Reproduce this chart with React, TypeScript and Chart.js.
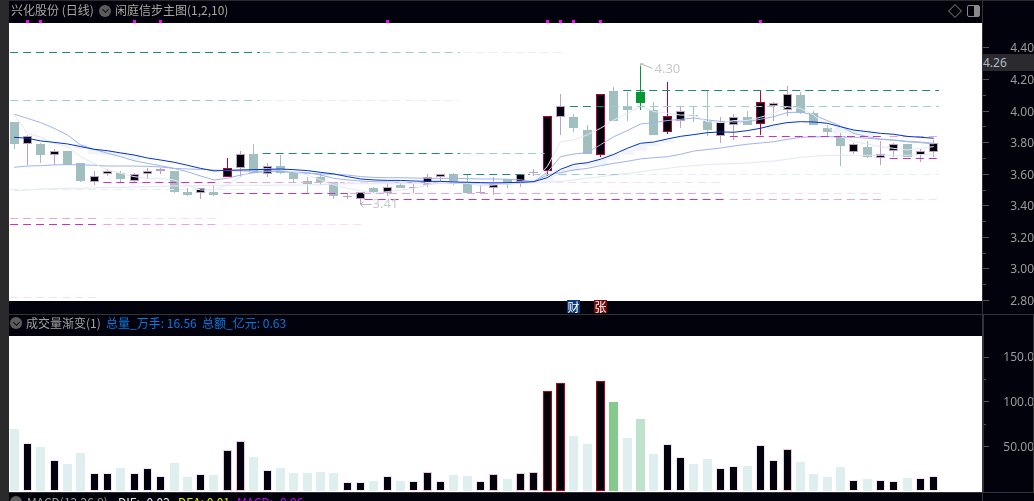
import React, { useEffect, useRef } from "react";
import { Chart, registerables, BarElement } from "chart.js";

Chart.register(...registerables);

// ---------- price panel data ----------
const candleKinds = [
  "d","u","d","u","d","d","u","u","d","u","u","u","d","d","u","d","s","u","d","u","d","d","d","d","d","x","u","d","u","d","x","u","u","d","d","u","u","d","u","x","s","u","d","d","s","d","d","g","d","s","u","d","d","u","u","d","s","u","u","d","d","d","d","u","d","u","u","d","u","u",
];
const bodyHigh = [3.93,3.84,3.79,3.75,3.75,3.67,3.59,3.62,3.61,3.60,3.62,3.63,3.62,3.49,3.51,3.49,3.64,3.73,3.73,3.65,3.65,3.61,3.56,3.58,3.55,3.465,3.49,3.51,3.52,3.53,3.52,3.58,3.60,3.60,3.55,3.49,3.54,3.57,3.60,3.612,3.97,4.03,3.96,3.88,4.11,4.13,4.03,4.12,4.01,3.97,4.00,3.973,3.94,3.93,3.96,3.96,4.06,4.05,4.11,4.10,3.99,3.89,3.84,3.79,3.77,3.73,3.79,3.79,3.75,3.80];
const bodyLow = [3.79,3.79,3.72,3.72,3.66,3.56,3.55,3.60,3.57,3.56,3.60,3.62,3.49,3.47,3.48,3.47,3.58,3.64,3.61,3.60,3.61,3.57,3.54,3.55,3.46,3.458,3.44,3.49,3.48,3.51,3.51,3.53,3.58,3.54,3.48,3.48,3.51,3.54,3.55,3.605,3.62,3.96,3.89,3.73,3.72,3.94,4.01,4.05,3.85,3.87,3.94,3.967,3.88,3.84,3.91,3.91,3.92,4.03,4.01,3.99,3.91,3.87,3.78,3.74,3.71,3.70,3.75,3.71,3.72,3.74];
const highs = [3.93,3.85,3.80,3.76,3.75,3.67,3.62,3.63,3.62,3.61,3.64,3.64,3.62,3.51,3.51,3.53,3.70,3.75,3.79,3.67,3.72,3.61,3.58,3.61,3.55,3.48,3.49,3.52,3.55,3.55,3.54,3.60,3.60,3.61,3.60,3.53,3.58,3.57,3.60,3.635,3.97,4.11,3.98,3.91,4.11,4.15,4.12,4.29,4.06,4.185,4.03,4.03,4.13,3.96,3.98,4.00,4.13,4.06,4.16,4.12,4.00,3.91,3.86,3.80,3.81,3.81,3.80,3.79,3.76,3.82];
const lows = [3.76,3.66,3.67,3.66,3.66,3.55,3.53,3.59,3.55,3.55,3.57,3.60,3.48,3.46,3.44,3.46,3.58,3.58,3.61,3.58,3.60,3.55,3.48,3.53,3.44,3.44,3.41,3.48,3.46,3.51,3.48,3.52,3.54,3.53,3.48,3.475,3.47,3.51,3.52,3.59,3.59,3.85,3.87,3.73,3.71,3.94,3.94,4.01,3.85,3.855,3.89,3.93,3.84,3.80,3.82,3.91,3.85,3.94,3.97,3.98,3.91,3.84,3.65,3.73,3.705,3.66,3.71,3.71,3.68,3.71];

const maDark = [3.834,3.828,3.811,3.802,3.792,3.775,3.758,3.749,3.735,3.722,3.703,3.690,3.676,3.657,3.637,3.621,3.625,3.627,3.629,3.631,3.633,3.629,3.623,3.612,3.602,3.585,3.570,3.564,3.561,3.561,3.557,3.555,3.555,3.551,3.549,3.547,3.545,3.547,3.549,3.553,3.578,3.631,3.663,3.673,3.695,3.726,3.764,3.796,3.804,3.823,3.840,3.851,3.863,3.868,3.866,3.876,3.891,3.912,3.927,3.933,3.931,3.923,3.901,3.880,3.870,3.859,3.853,3.840,3.834,3.828];
const maMidFast = [3.980,3.954,3.927,3.891,3.849,3.785,3.758,3.733,3.711,3.686,3.669,3.654,3.637,3.616,3.589,3.564,3.574,3.595,3.610,3.616,3.616,3.610,3.606,3.602,3.599,3.595,3.585,3.580,3.578,3.578,3.576,3.574,3.574,3.574,3.572,3.570,3.570,3.568,3.564,3.553,3.612,3.711,3.728,3.737,3.787,3.838,3.876,3.918,3.927,3.940,3.948,3.956,3.944,3.935,3.931,3.933,3.948,3.965,3.990,3.994,3.975,3.940,3.906,3.859,3.838,3.823,3.817,3.809,3.804,3.796];
const maMidSlow = [3.644,3.652,3.654,3.659,3.661,3.659,3.657,3.652,3.652,3.652,3.650,3.646,3.637,3.633,3.631,3.627,3.623,3.621,3.619,3.621,3.621,3.614,3.610,3.595,3.574,3.564,3.557,3.553,3.551,3.549,3.547,3.547,3.545,3.543,3.543,3.540,3.538,3.538,3.543,3.553,3.595,3.610,3.627,3.637,3.654,3.669,3.682,3.697,3.705,3.711,3.726,3.747,3.756,3.766,3.779,3.790,3.798,3.806,3.821,3.834,3.836,3.838,3.836,3.834,3.828,3.821,3.815,3.806,3.800,3.792];
const maPaleSlow = [3.496,3.500,3.507,3.509,3.511,3.511,3.513,3.517,3.517,3.519,3.521,3.523,3.526,3.526,3.528,3.530,3.530,3.530,3.530,3.530,3.532,3.532,3.532,3.534,3.538,3.540,3.540,3.540,3.540,3.540,3.540,3.540,3.543,3.543,3.543,3.543,3.543,3.543,3.543,3.545,3.549,3.553,3.564,3.574,3.585,3.595,3.606,3.616,3.627,3.637,3.648,3.654,3.661,3.665,3.667,3.671,3.678,3.684,3.695,3.707,3.714,3.720,3.720,3.720,3.720,3.720,3.720,3.720,3.724,3.728];
const maPaleFast = [3.980,3.859,3.834,3.796,3.775,3.711,3.669,3.627,3.606,3.585,3.574,3.574,3.564,3.532,3.500,3.500,3.532,3.585,3.627,3.637,3.627,3.616,3.595,3.564,3.532,3.511,3.496,3.479,3.490,3.500,3.511,3.532,3.543,3.553,3.543,3.526,3.532,3.538,3.547,3.564,3.648,3.806,3.817,3.849,3.891,3.944,3.986,4.028,3.997,3.986,3.975,3.975,3.933,3.927,3.940,3.940,3.961,3.986,4.028,4.017,3.975,3.901,3.838,3.806,3.792,3.775,3.764,3.754,3.764,3.775];

// pale stepped bands around the main average: [candle, high, low]
const paleBands = [[5,3.79,3.76],[6,3.76,3.73],[7,3.75,3.72],[8,3.74,3.71],[9,3.72,3.69],[40,3.59,3.55],[41,3.63,3.59],[42,3.66,3.62],[43,3.67,3.65],[44,3.70,3.66],[45,3.73,3.69],[46,3.76,3.72],[47,3.80,3.75],[48,3.80,3.78],[49,3.82,3.80],[57,3.91,3.88],[62,3.90,3.86],[63,3.88,3.85],[64,3.87,3.84]];

// dashed price levels: [price, from candle, to candle, tier 0 strong .. 2 faint]
const tealLevels = [
  [4.37,-0.3,18.45,0],[4.37,18.65,33.45,1],[4.37,33.7,41.3,2],
  [4.07,-0.3,18.45,1],[4.07,18.65,33.45,2],
  [3.73,18.65,33.45,0],[3.73,33.7,39.8,1],
  [3.60,33.7,38.7,0],[3.60,38.9,45.5,1],[3.60,45.7,69.4,2],
  [3.505,-0.3,18.45,2],
  [4.13,45.7,69.4,0],
  [4.03,41.7,44.55,0],[4.03,44.8,69.4,1],
];
const magentaLevels = [
  [3.55,6.7,15.45,0],[3.55,15.7,24.8,1],[3.55,25,53.3,2],
  [3.48,15.7,25,0],[3.48,25.2,53.3,1],[3.48,53.7,65.3,2],
  [3.44,26.3,53.4,0],[3.44,53.7,65.3,1],[3.44,65.7,69.4,2],
  [3.32,-0.3,6.45,1],[3.32,6.7,15.45,2],
  [3.28,-0.3,6.45,0],[3.28,6.7,15.45,1],[3.28,15.7,26.3,2],
  [3.84,53.7,65.3,0],[3.84,65.7,69.4,1],
  [3.70,65.7,69.4,0],
  [2.82,-0.3,6.45,2],
];
const signalCandles = [1,2,9,11,28,40,41,42,44,56];
const peakNotes = [{ i: 47, price: 4.29, text: "4.30", dx: 14, dy: 4 }];
const troughNotes = [{ i: 26, price: 3.41, text: "3.41" }];

const priceTicks = [2.8,2.9,3.0,3.1,3.2,3.3,3.4,3.5,3.6,3.7,3.8,3.9,4.0,4.1,4.2,4.3,4.4];
const priceLabelled = [2.8,3.0,3.2,3.4,3.6,3.8,4.0,4.2,4.4];
const priceMin = 2.797;
const priceMax = 4.558;

// ---------- volume panel data ----------
const volumes = [69.4,54,49,35,30,42.5,20.5,20.5,25.7,20.5,26,17,31,15.7,19,18,45.5,55.6,38,23,25.7,20,20,21,20,10.4,10.4,11,17,11,11.5,21,11.5,18,17,11.5,18.6,13.4,20,21,111.6,120.5,61.6,52.6,122.8,99.6,59.3,80.6,41.4,53,38.4,30,35.8,26,28,28,52,34.7,46.6,32.5,19,15.7,26.9,12.7,13.4,12.7,11.6,14.6,15,17];
const volumeKinds = ["l","b","l","b","l","l","b","b","l","b","b","b","l","l","b","l","p","p","l","b","l","l","l","l","l","b","b","l","b","l","b","p","b","l","l","b","p","l","p","p","r","r","l","l","r","g","l","h","l","b","b","l","l","b","b","l","b","b","p","l","l","l","l","b","l","b","b","l","b","b"];
const volumeTicks = [50,75,100,125,150];
const volumeLabels: Record<number, string> = { 50: "50.00", 100: "100.0", 150: "150.0" };
const volumeMax = 173.6;

// ---------- look ----------
const INK = "#02020c";
const TEAL = "#a2bfbf";
const MAUVE = "#bfa0c2";
const CRIMSON = "#b8003c";
const GREEN = "#009933";
const AXIS_FONT = { family: "'Noto Sans'", size: 12 };
const AXIS_COLOR = "#9a9a9a";
const X_MIN = -0.38;
const X_MAX = 72.62;

const candleFill: Record<string, string> = { d: TEAL, u: INK, s: INK, g: GREEN, x: MAUVE };
const candleEdge: Record<string, string> = { d: TEAL, u: MAUVE, s: CRIMSON, g: GREEN, x: MAUVE };
const wickColor: Record<string, string> = { d: TEAL, u: MAUVE, s: CRIMSON, g: GREEN, x: MAUVE };
const volFill: Record<string, string> = { l: "#dfeeee", b: INK, p: INK, r: INK, g: "#85c98c", h: "#bfe2cd" };
const volEdge: Record<string, string> = { l: "#dfeeee", b: "#f6e0f4", p: "#f2c4dc", r: "#c00010", g: "#85c98c", h: "#bfe2cd" };
const tealTier = ["#1a8a80", "#9ccfcc", "#e2f1ef"];
const magentaTier = ["#c832c0", "#e8a4e0", "#f6dcf4"];

// keep bars on whole pixels, as the terminal draws them
const baseBarDraw = BarElement.prototype.draw;
BarElement.prototype.draw = function (this: any, ctx: CanvasRenderingContext2D) {
  this.x = Math.floor(this.x) + 0.5;
  this.y = Math.round(this.y);
  this.base = Math.round(this.base);
  baseBarDraw.call(this, ctx);
};

const bgPlugin = {
  id: "panelBg",
  beforeDraw(chart: any) {
    const { ctx, chartArea: a } = chart;
    ctx.save();
    ctx.fillStyle = "#ffffff";
    ctx.fillRect(a.left, a.top, a.right - a.left, a.bottom - a.top + (chart.options.plugins.panelBg?.extra ?? 0));
    ctx.restore();
  },
};

const snapPlugin = {
  id: "snapLevels",
  beforeDatasetDraw(chart: any, args: any) {
    const ds = chart.data.datasets[args.index];
    if (!ds.snap) return;
    const y = args.meta.data[0].y;
    chart.ctx.save();
    chart.ctx.translate(0, Math.round(y - 0.5) + 0.5 - y);
  },
  afterDatasetDraw(chart: any, args: any) {
    if (chart.data.datasets[args.index].snap) chart.ctx.restore();
  },
};

function axisTicksPlugin(major: number[], color: string) {
  return {
    id: "axisTicks",
    afterDraw(chart: any) {
      const { ctx, scales } = chart;
      const s = scales.y;
      ctx.save();
      ctx.strokeStyle = color;
      ctx.lineWidth = 1;
      s.ticks.forEach((t: any) => {
        const y = Math.round(s.getPixelForValue(t.value) - 0.5) + 0.5;
        const len = major.includes(t.value) ? 6 : 3;
        ctx.beginPath();
        ctx.moveTo(s.left + 1, y);
        ctx.lineTo(s.left + 1 + len, y);
        ctx.stroke();
      });
      ctx.restore();
    },
  };
}

const notesPlugin = {
  id: "extremeNotes",
  afterDatasetsDraw(chart: any) {
    const { ctx, scales } = chart;
    ctx.save();
    ctx.font = "13px 'Noto Sans'";
    ctx.textBaseline = "middle";
    ctx.strokeStyle = "#b8b8b8";
    ctx.fillStyle = "#c6cbc6";
    ctx.lineWidth = 1;
    peakNotes.forEach((n) => {
      const x = Math.floor(scales.x.getPixelForValue(n.i)) + 0.5;
      const y = scales.y.getPixelForValue(n.price) - 2;
      ctx.beginPath();
      ctx.moveTo(x + 3, y + 0.5);
      ctx.lineTo(x, y + 0.5);
      ctx.lineTo(x, y + 3);
      ctx.moveTo(x, y + 0.5);
      ctx.lineTo(x + 12, y + 5);
      ctx.stroke();
      ctx.fillText(n.text, x + n.dx, y + n.dy + 2);
    });
    troughNotes.forEach((n) => {
      const x = Math.floor(scales.x.getPixelForValue(n.i)) + 0.5;
      const y = Math.round(scales.y.getPixelForValue(n.price)) + 0.5;
      ctx.beginPath();
      ctx.moveTo(x + 3, y - 3);
      ctx.lineTo(x, y);
      ctx.lineTo(x + 3, y + 3);
      ctx.moveTo(x, y);
      ctx.lineTo(x + 11, y);
      ctx.stroke();
      ctx.fillText(n.text, x + 12, y);
    });
    ctx.restore();
  },
};

const barBase = { type: "bar", grouped: false, inflateAmount: 0, borderSkipped: false, parsing: { xAxisKey: "x", yAxisKey: "y" } };

function maLine(values: number[], color: string, order: number, width = 1) {
  return {
    type: "line",
    data: values.map((y, x) => ({ x, y })),
    borderColor: color,
    borderWidth: width,
    pointRadius: 0,
    tension: 0,
    fill: false,
    order,
  };
}

function levelLines(levels: number[][], tiers: string[]) {
  return levels.map(([price, from, to, tier]) => ({
    type: "line",
    snap: true,
    data: [{ x: from, y: price }, { x: to, y: price }],
    borderColor: tiers[tier],
    borderWidth: 1,
    borderDash: [8, 5],
    pointRadius: 0,
    order: 1,
  }));
}

const fitAxis = (s: any) => {
  s.width = 52;
  s.paddingTop = 0;
  s.paddingBottom = 0;
  s.paddingLeft = 0;
  s.paddingRight = 0;
};

function priceConfig(): any {
  return {
    data: {
      datasets: [
        ...levelLines(tealLevels, tealTier),
        ...levelLines(magentaLevels, magentaTier),
        maLine(maPaleFast, "#e2e7f8", 2),
        maLine(maPaleSlow, "#e2e7f8", 2),
        maLine(maMidSlow, "#a0b4ec", 2),
        maLine(maMidFast, "#a0b4ec", 2),
        maLine(maDark, "#0033cc", 0, 1),
        {
          ...barBase,
          data: paleBands.map(([x, hi, lo]) => ({ x, y: [lo, hi] })),
          backgroundColor: "#f1f4fd",
          barThickness: 13,
          order: 6,
        },
        {
          ...barBase,
          data: lows.map((lo, x) => ({ x, y: [lo, highs[x]] })),
          backgroundColor: candleKinds.map((k) => wickColor[k]),
          barThickness: 1,
          order: 5,
        },
        {
          ...barBase,
          data: bodyLow.map((lo, x) => ({ x, y: [lo, bodyHigh[x]] })),
          backgroundColor: candleKinds.map((k) => candleFill[k]),
          borderColor: candleKinds.map((k) => candleEdge[k]),
          borderWidth: 1,
          barThickness: 9,
          order: 4,
        },
        {
          ...barBase,
          clip: false,
          data: signalCandles.map((x) => ({ x, y: [4.558, 4.577] })),
          backgroundColor: "#ff00ff",
          barThickness: 3,
          order: 3,
        },
      ],
    },
    options: {
      responsive: false,
      animation: false,
      events: [],
      layout: { autoPadding: false, padding: { top: 23, left: 9, right: 0, bottom: 19 } },
      plugins: { legend: { display: false }, tooltip: { enabled: false } },
      scales: {
        x: { type: "linear", display: false, offset: false, min: X_MIN, max: X_MAX },
        y: {
          position: "right",
          min: priceMin,
          max: priceMax,
          afterFit: fitAxis,
          afterBuildTicks: (s: any) => { s.ticks = priceTicks.map((value) => ({ value })); },
          grid: { drawOnChartArea: false, drawTicks: false },
          border: { display: false },
          ticks: {
            autoSkip: false,
            padding: 16,
            labelOffset: 1,
            crossAlign: "far",
            color: AXIS_COLOR,
            font: AXIS_FONT,
            callback: (v: number) => (priceLabelled.includes(v) ? v.toFixed(2) : ""),
          },
        },
      },
    },
    plugins: [bgPlugin, snapPlugin, notesPlugin, axisTicksPlugin(priceLabelled, "#555558")],
  };
}

function volumeConfig(): any {
  return {
    data: {
      datasets: [
        {
          ...barBase,
          data: volumes.map((y, x) => ({ x, y })),
          backgroundColor: volumeKinds.map((k) => volFill[k]),
          borderColor: volumeKinds.map((k) => volEdge[k]),
          borderWidth: 1,
          barThickness: 9,
        },
      ],
    },
    options: {
      responsive: false,
      animation: false,
      events: [],
      layout: { autoPadding: false, padding: { top: 10, left: 9, right: 0, bottom: 10 } },
      plugins: { legend: { display: false }, tooltip: { enabled: false }, panelBg: { extra: 1 } },
      scales: {
        x: { type: "linear", display: false, offset: false, min: X_MIN, max: X_MAX },
        y: {
          position: "right",
          min: 0,
          max: volumeMax,
          afterFit: fitAxis,
          afterBuildTicks: (s: any) => { s.ticks = volumeTicks.map((value) => ({ value })); },
          grid: { drawOnChartArea: false, drawTicks: false },
          border: { display: false },
          ticks: {
            autoSkip: false,
            padding: 9,
            labelOffset: 1,
            crossAlign: "far",
            color: AXIS_COLOR,
            font: AXIS_FONT,
            callback: (v: number) => volumeLabels[v] ?? "",
          },
        },
      },
    },
    plugins: [bgPlugin, axisTicksPlugin([50, 100, 150], "#555558")],
  };
}

const CJK = "'Noto Sans CJK SC'";

function Txt({ x, y, color, children, size = 12 }: any) {
  return (
    <span style={{ position: "absolute", left: x, top: y, color, fontFamily: CJK, fontSize: size, lineHeight: "16px", whiteSpace: "pre" }}>
      {children}
    </span>
  );
}

function Box({ x, y, w, h, c }: any) {
  return <div style={{ position: "absolute", left: x, top: y, width: w, height: h, background: c }} />;
}

function Chevron({ x, y }: any) {
  return (
    <div style={{ position: "absolute", left: x - 6, top: y - 6, width: 12, height: 12, borderRadius: 6, background: "#5c5c5c" }}>
      <div style={{ position: "absolute", left: 3.5, top: 2.5, width: 4, height: 4, borderRight: "1px solid #111", borderBottom: "1px solid #111", transform: "rotate(45deg)" }} />
    </div>
  );
}

function Badge({ x, bg, text }: any) {
  return (
    <div style={{ position: "absolute", left: x, top: 300, width: 13, height: 13, background: bg, color: "#fff", fontFamily: CJK, fontSize: 12, lineHeight: "13px", textAlign: "center" }}>
      {text}
    </div>
  );
}

export default function App() {
  const priceRef = useRef<HTMLCanvasElement>(null);
  const volRef = useRef<HTMLCanvasElement>(null);

  useEffect(() => {
    document.body.style.margin = "0";
    document.body.style.background = INK;
    const a = new Chart(priceRef.current!, priceConfig());
    const b = new Chart(volRef.current!, volumeConfig());
    return () => {
      a.destroy();
      b.destroy();
    };
  }, []);

  const line = "#333336";
  return (
    <div style={{ position: "relative", width: 1034, height: 501, overflow: "hidden", background: INK }}>
      <canvas ref={priceRef} width={1034} height={320} style={{ position: "absolute", left: 0, top: 0, width: 1034, height: 320 }} />
      <canvas ref={volRef} width={1034} height={175} style={{ position: "absolute", left: 0, top: 326, width: 1034, height: 175 }} />

      <Box x={0} y={0} w={9} h={501} c="#2a2a2d" />
      <Box x={0} y={0} w={1034} h={1} c="#2a2a2d" />
      <Box x={982} y={0} w={1} h={501} c={line} />
      <Box x={9} y={314} w={1025} h={1} c={line} />
      <Box x={9} y={492} w={1025} h={1} c={line} />
      <Box x={983} y={315} w={1} h={177} c={line} />
      <Box x={1033} y={315} w={1} h={177} c={line} />

      <Txt x={11} y={2} color="#a8a8a0">兴化股份 (日线)</Txt>
      <Chevron x={105} y={10.5} />
      <Txt x={115} y={2} color="#a8a8a0">闲庭信步主图(1,2,10)</Txt>
      <div style={{ position: "absolute", left: 950, top: 6, width: 8, height: 8, border: "1px solid #666", transform: "rotate(45deg)" }} />
      <div style={{ position: "absolute", left: 967, top: 5, width: 11, height: 10, border: "1px solid #8a8a8a", borderRadius: 2 }}>
        <div style={{ position: "absolute", right: 0, top: 0, width: 5, height: 10, background: "#8a8a8a" }} />
      </div>

      <div style={{ position: "absolute", left: 983, top: 54, width: 51, height: 17, background: "#2b2b2f" }} />
      <span style={{ position: "absolute", left: 983, top: 54, color: "#aeb8c4", fontFamily: "'Noto Sans'", fontSize: 12, lineHeight: "17px" }}>4.26</span>

      <Badge x={567} bg="#0a3a78" text="财" />
      <Badge x={594} bg="#7a0a0a" text="张" />

      <Chevron x={16} y={323} />
      <Txt x={26} y={315} color="#a0a0a0">成交量渐变(1)</Txt>
      <Txt x={106} y={315} color="#0a78e0">总量_万手: 16.56  总额_亿元: 0.63</Txt>

      <Chevron x={16} y={502} />
      <Txt x={27} y={494} color="#9a9a9a">MACD(12,26,9)</Txt>
      <Txt x={118} y={494} color="#e8e8e8">DIF: -0.02</Txt>
      <Txt x={178} y={494} color="#e6e600">DEA: 0.01</Txt>
      <Txt x={237} y={494} color="#cc00ff">MACD: -0.06</Txt>
    </div>
  );
}
